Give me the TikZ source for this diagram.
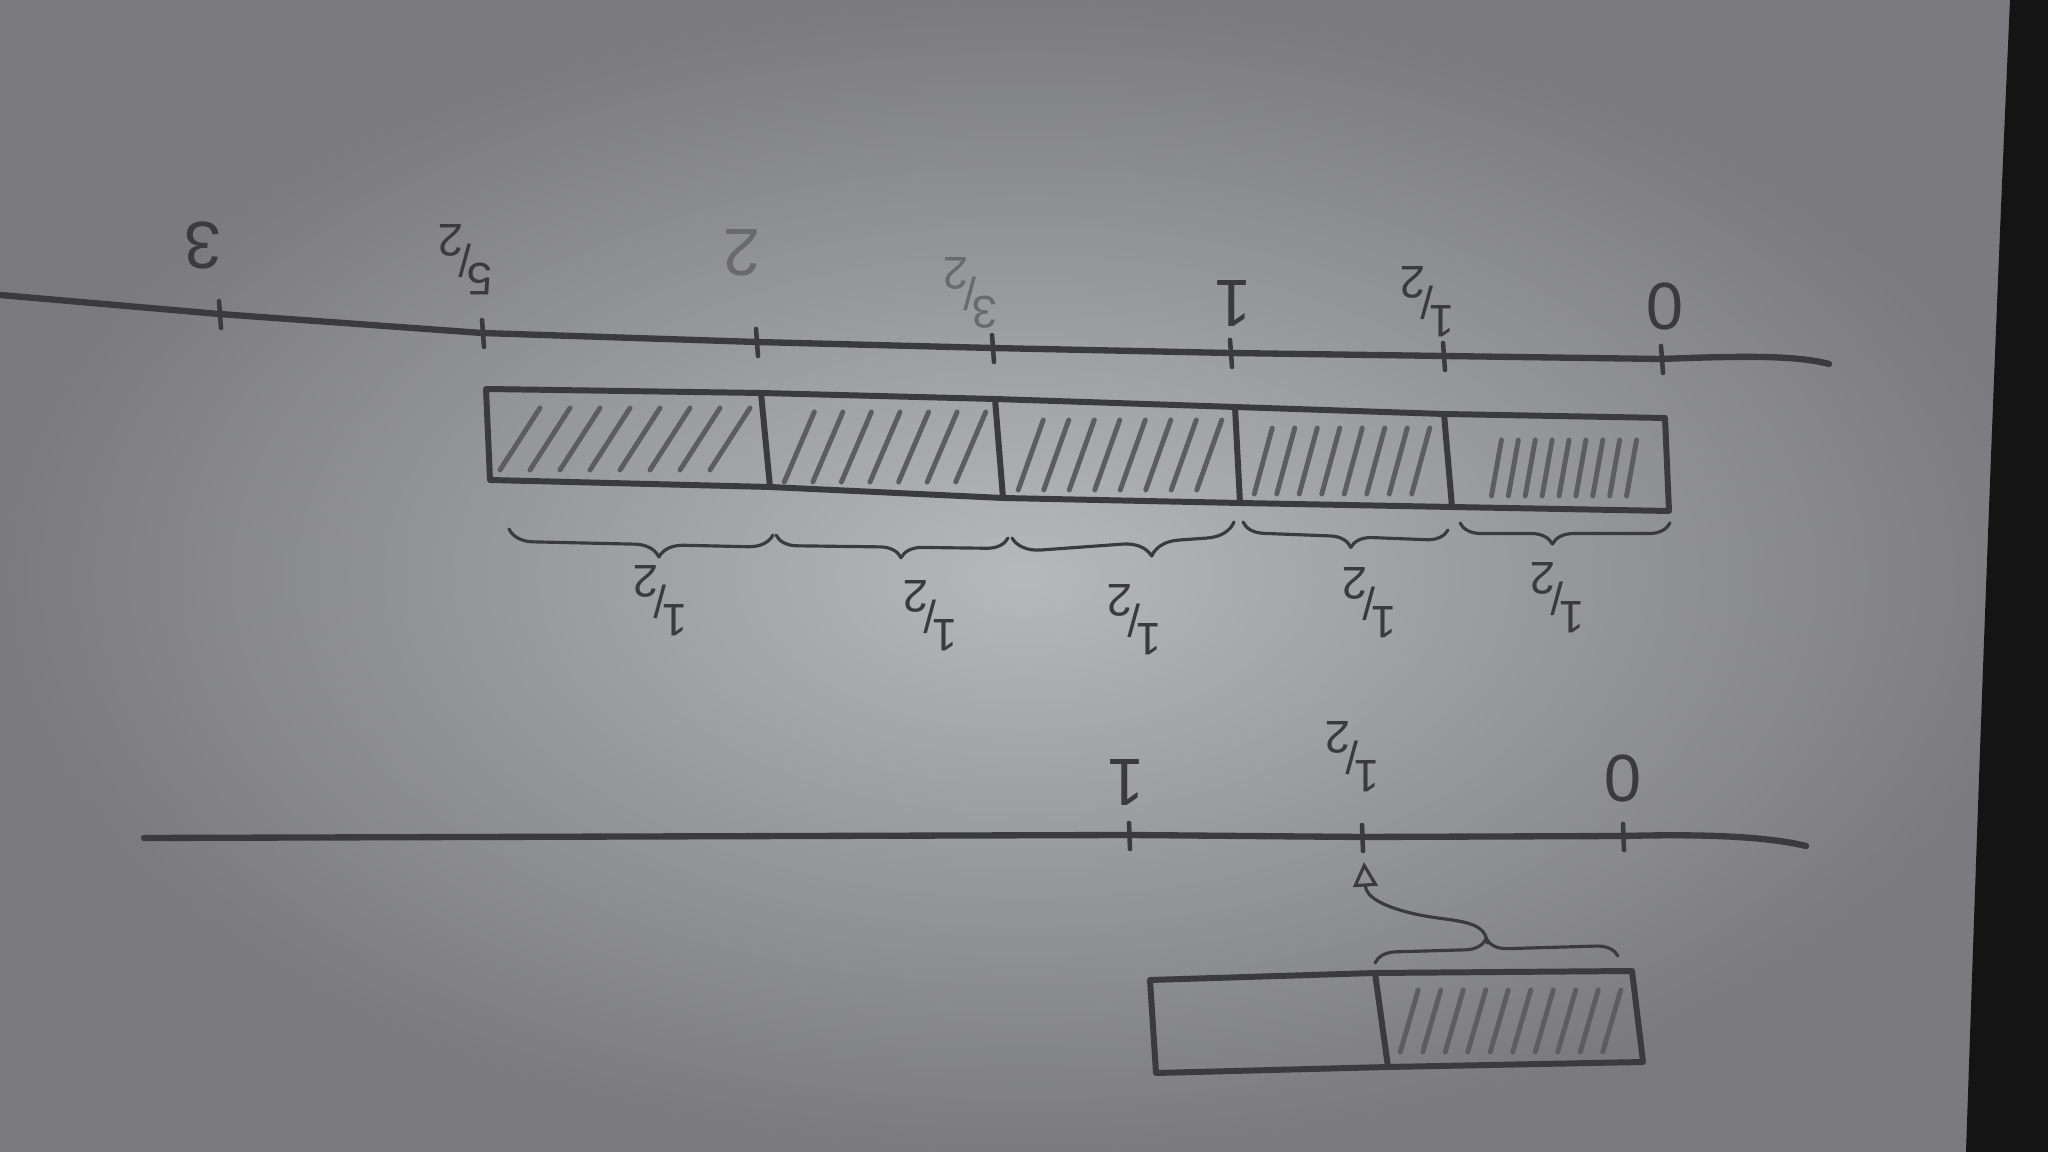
\documentclass[tikz,border=0pt]{standalone}
\usepackage{fontspec}
\setmainfont{Liberation Sans}
\usepackage{tikz}
\usetikzlibrary{arrows.meta,decorations.pathreplacing,calc}
\definecolor{paper}{RGB}{182,184,187}
\definecolor{paperdark}{RGB}{122,122,127}
\definecolor{pencil}{RGB}{58,58,63}
\definecolor{hatchgray}{RGB}{92,92,98}
\definecolor{faintgray}{RGB}{105,105,111}
\newcommand{\slfrac}[2]{\raisebox{0.8ex}{#1}\kern-0.1em/\kern-0.1em\raisebox{-0.8ex}{#2}}

\begin{document}
\begin{tikzpicture}[x=0.1mm, y=-0.1mm, line cap=round, line join=round,
    axis/.style={draw=pencil, line width=1.8pt},
    tickmark/.style={draw=pencil, line width=1.3pt},
    boxline/.style={draw=pencil, line width=1.7pt},
    hatchline/.style={draw=hatchgray, line width=1.4pt},
    brc/.style={draw=pencil, line width=0.9pt},
    num/.style={rotate=180, text=pencil, inner sep=0pt, font=\fontsize{19}{21}\selectfont},
    frc/.style={rotate=180, text=pencil, inner sep=0pt, font=\fontsize{13}{15}\selectfont}]
  \useasboundingbox (0,0) rectangle (2048,1152);
  % Paper and table edge
  \shade[inner color=paper, outer color=paperdark] (0,0) rectangle (2048,1152);
  \fill[black!92] (2010,0) .. controls (1992,400) and (1978,800) .. (1966,1152)
    -- (2048,1152) -- (2048,0) -- cycle;

  % Upper number line
  \coordinate (t3)  at (219,314);
  \coordinate (t52) at (482,333);
  \coordinate (t2)  at (756,342);
  \coordinate (t32) at (992,348);
  \coordinate (t1)  at (1230,353);
  \coordinate (t12) at (1443,356);
  \coordinate (t0)  at (1661,359);
  \draw[axis] (0,295) -- (t3) -- (t52) -- (t2) -- (t32) -- (t1) -- (t12) -- (t0)
    .. controls (1740,356) and (1795,355) .. (1829,364);
  \foreach \t in {t3,t52,t2,t32,t1,t12,t0}{
    \draw[tickmark] ($(\t)+(0,-13)$) -- ($(\t)+(2,14)$);
  }
  \node[num] (l3)  at (203,246) {3};
  \node[frc] (l52) at (465,260) {\slfrac{5}{2}};
  \node[num, text=faintgray] (l2) at (742,253) {2};
  \node[frc, text=faintgray] (l32) at (970,293) {\slfrac{3}{2}};
  \node[num] (l1)  at (1233,303) {1};
  \node[frc] (l12) at (1427,302) {\slfrac{1}{2}};
  \node[num] (l0)  at (1665,307) {0};

  % Five hatched halves
  \coordinate (a0) at (486,389);  \coordinate (b0) at (490,480);
  \coordinate (a1) at (761,393);  \coordinate (b1) at (770,487);
  \coordinate (a2) at (995,399);  \coordinate (b2) at (1003,498);
  \coordinate (a3) at (1235,407); \coordinate (b3) at (1240,503);
  \coordinate (a4) at (1444,414); \coordinate (b4) at (1452,507);
  \coordinate (a5) at (1665,418); \coordinate (b5) at (1669,511);
  \draw[boxline] (a0) -- (a1) -- (a2) -- (a3) -- (a4) -- (a5) -- (b5)
    -- (b4) -- (b3) -- (b2) -- (b1) -- (b0) -- cycle;
  \foreach \i in {1,2,3,4}{
    \draw[boxline] (a\i) -- (b\i);
  }
  \foreach \xa/\xb/\ya/\yb/\n/\s in {505/745/408/470/8/40, 785/985/412/482/7/30,
      1018/1222/420/490/8/25, 1252/1432/428/494/8/18, 1488/1640/440/496/9/10}{
    \foreach \k in {1,...,\n}{
      \pgfmathsetmacro{\hx}{\xa+(\k-0.5)*(\xb-\xa)/\n}
      \draw[hatchline] (\hx-\s/2,\yb) -- (\hx+\s/2,\ya);
    }
  }

  % Braces below
  \draw[brc, decorate, decoration={brace, amplitude=7pt, aspect=0.43}] (773,535) -- (509,529);
  \draw[brc, decorate, decoration={brace, amplitude=6pt, aspect=0.46}] (1008,538) -- (776,535);
  \draw[brc, decorate, decoration={brace, amplitude=8pt, aspect=0.38}] (1234,522) -- (1012,538);
  \draw[brc, decorate, decoration={brace, amplitude=6pt, aspect=0.47}] (1448,530) -- (1243,522);
  \draw[brc, decorate, decoration={brace, amplitude=6pt, aspect=0.56}] (1670,523) -- (1460,523);
  \foreach \x/\y [count=\j] in {660/601, 930/616, 1134/620, 1369/603, 1557/598}{
    \node[frc] (h\j) at (\x,\y) {\slfrac{1}{2}};
  }

  % Lower number line
  \coordinate (u1)  at (1129,835);
  \coordinate (u12) at (1362,837);
  \coordinate (u0)  at (1623,836);
  \draw[axis] (144,838) -- (u1) -- (u12) -- (u0)
    .. controls (1700,834) and (1765,836) .. (1806,846);
  \foreach \t in {u1,u12,u0}{
    \draw[tickmark] ($(\t)+(0,-12)$) -- ($(\t)+(1,14)$);
  }
  \node[num] (m1)  at (1126,782) {1};
  \node[frc] (m12) at (1352,757) {\slfrac{1}{2}};
  \node[num] (m0)  at (1623,778) {0};

  % One half and its brace
  \coordinate (c0) at (1150,980);  \coordinate (d0) at (1156,1073);
  \coordinate (c1) at (1375,973);  \coordinate (d1) at (1388,1067);
  \coordinate (c2) at (1632,971);  \coordinate (d2) at (1643,1062);
  \draw[boxline] (c0) -- (c1) -- (c2) -- (d2) -- (d1) -- (d0) -- cycle;
  \draw[boxline] (c1) -- (d1);
  \foreach \k in {1,...,10}{
    \pgfmathsetmacro{\hx}{1398+(\k-0.5)*225/10}
    \draw[hatchline] (\hx-9,1052) -- (\hx+9,990);
  }
  \draw[brc, decorate, decoration={brace, amplitude=6pt, aspect=0.46}] (1375,963) -- (1618,956);
  \coordinate (bt) at (1487,943);
  \coordinate (ah) at (1364,862);
  \draw[brc, -{Triangle[open, length=7pt, width=7pt]}] (bt)
    .. controls (1486,918) and (1450,922) .. (1415,914)
    .. controls (1380,906) and (1366,896) .. (ah);
\end{tikzpicture}
\end{document}
